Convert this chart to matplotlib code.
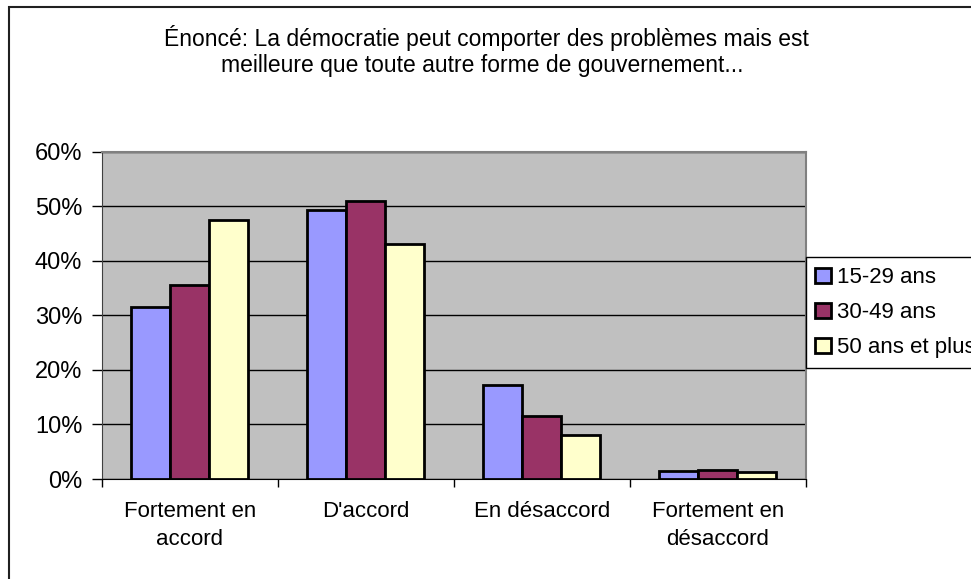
import numpy as np
import matplotlib
matplotlib.use("Agg")
import matplotlib.pyplot as plt
from matplotlib.patches import Rectangle

plt.rcParams['font.family'] = ['Liberation Sans', 'DejaVu Sans']

# data
categories = ["Fortement en\naccord", "D'accord", "En désaccord", "Fortement en\ndésaccord"]
series_names = ["15-29 ans", "30-49 ans", "50 ans et plus"]
age_15_29 = [31.6, 49.3, 17.3, 1.5]
age_30_49 = [35.5, 51.0, 11.6, 1.65]
age_50_plus = [47.4, 43.0, 8.0, 1.3]
yticks = [0, 10, 20, 30, 40, 50, 60]
title_lines = ["Énoncé: La démocratie peut comporter des problèmes mais est",
               "meilleure que toute autre forme de gouvernement..."]

colors = ["#9999FF", "#993366", "#FFFFCC"]
values = [age_15_29, age_30_49, age_50_plus]

fig = plt.figure(figsize=(9.71, 5.79), dpi=100)
fig.patch.set_facecolor("white")

# outer chart border (right and bottom edges fall outside the picture)
fig.patches.append(Rectangle((8.5 / 971, -0.1), 1.2, 1 - 6.7 / 579 + 0.1,
                             transform=fig.transFigure, fill=False,
                             edgecolor="#202020", linewidth=1.5))

ax = fig.add_axes([101.7 / 971, 1 - 479 / 579, 704 / 971, 327.3 / 579])
ax.set_facecolor("#C0C0C0")

x = np.arange(len(categories))
width = 1 / 4.5
for i, (name, vals) in enumerate(zip(series_names, values)):
    ax.bar(x + (i - 1) * width, vals, width, color=colors[i], edgecolor="black",
           linewidth=2, label=name, zorder=3)

ax.set_xlim(-0.5, len(categories) - 0.5)
ax.set_ylim(0, 60)
ax.set_yticks(yticks)
ax.set_yticklabels([f"{v}%" for v in yticks])
ax.yaxis.grid(True, color="black", linewidth=1, zorder=1)
ax.set_axisbelow(True)

# ticks on the category boundaries, labels in the middle
ax.set_xticks(np.arange(len(categories) + 1) - 0.5)
ax.set_xticklabels([])
ax.set_xticks(x, minor=True)
ax.set_xticklabels(categories, minor=True, fontsize=16, linespacing=1.45)
ax.tick_params(axis="x", which="minor", length=0, pad=16)
ax.tick_params(axis="x", which="major", length=6, width=1, color="black")
ax.tick_params(axis="y", length=7, width=1, color="black", labelsize=17, pad=7)

ax.spines['top'].set_color("#808080")
ax.spines['right'].set_color("#808080")
ax.spines['top'].set_linewidth(1.5)
ax.spines['right'].set_linewidth(1.5)
ax.spines['left'].set_color("#404040")
ax.spines['bottom'].set_color("black")

fig.text(486 / 971, 1 - 46 / 579, title_lines[0], ha="center", va="baseline", fontsize=16.5)
fig.text(482 / 971, 1 - 72 / 579, title_lines[1], ha="center", va="baseline", fontsize=16.5)

leg = ax.legend(loc="upper left", bbox_to_anchor=(805.7 / 971, 1 - 257.3 / 579),
                bbox_transform=fig.transFigure, borderaxespad=0, fontsize=16,
                handlelength=0.68, handleheight=0.68, handletextpad=0.3,
                borderpad=0.44, labelspacing=0.63, fancybox=False, framealpha=1)
leg.get_frame().set_edgecolor("black")
leg.get_frame().set_linewidth(1)

plt.savefig("out.png", dpi=100)
